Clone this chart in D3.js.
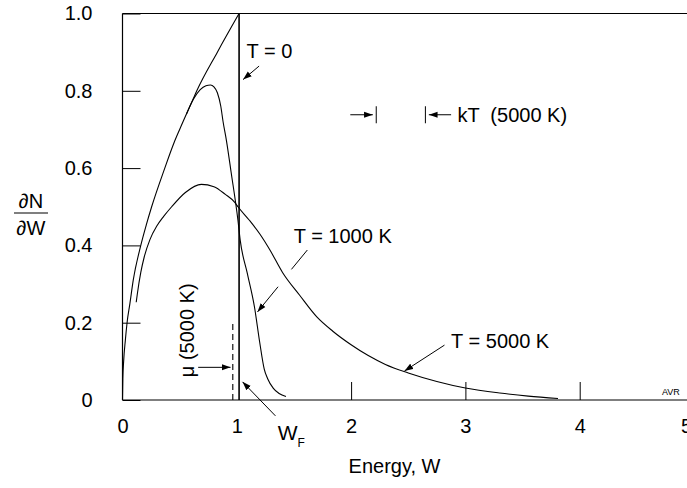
<!DOCTYPE html>
<html>
<head>
<meta charset="utf-8">
<script src="https://cdn.jsdelivr.net/npm/d3@7"></script>
<style>
  body { margin: 0; background: #fff; }
  svg { display: block; }
  text { font-family: "Liberation Sans", Arial, sans-serif; fill: #000; }
</style>
</head>
<body>
<div id="chart"></div>
<script>
// T = 0 (step at the Fermi level)
var w0 = [0, 0.003, 0.01, 0.025, 0.04, 0.065, 0.094, 0.16, 0.21, 0.255, 0.37, 0.45, 0.5, 0.62, 0.65, 0.83, 1.02];
var n0 = [0, 0.055, 0.1, 0.155, 0.2, 0.25, 0.31, 0.4, 0.455, 0.5, 0.6, 0.665, 0.7, 0.78, 0.8, 0.9, 1.0];
var wF = 1.02;

// T = 1000 K
var w1000 = [0.56, 0.62, 0.68, 0.73, 0.77, 0.8, 0.83, 0.86, 0.88, 0.91, 0.95, 1.01, 1.03, 1.09, 1.155, 1.2, 1.24, 1.27, 1.32, 1.43];
var n1000 = [0.74, 0.778, 0.803, 0.813, 0.815, 0.81, 0.795, 0.76, 0.72, 0.67, 0.59, 0.465, 0.413, 0.33, 0.24, 0.15, 0.08, 0.055, 0.03, 0.009];

// T = 5000 K
var w5000 = [0.12, 0.13, 0.16, 0.19, 0.24, 0.3, 0.36, 0.43, 0.55, 0.69, 0.8, 0.9, 0.98, 1.01, 1.11, 1.2, 1.29, 1.4, 1.55, 1.7, 1.84, 2.0, 2.15, 2.3, 2.5, 2.75, 3.0, 3.3, 3.55, 3.81];
var n5000 = [0.253, 0.275, 0.33, 0.37, 0.415, 0.45, 0.475, 0.5, 0.537, 0.558, 0.552, 0.532, 0.512, 0.5, 0.465, 0.43, 0.388, 0.33, 0.271, 0.215, 0.178, 0.143, 0.115, 0.092, 0.07, 0.048, 0.031, 0.018, 0.01, 0.004];

// chemical potential at 5000 K and kT at 5000 K
var mu5000 = 0.965;
var kTfrom = 2.22, kTto = 2.65;

var xTicks = [0, 1, 2, 3, 4, 5];
var yTicks = [0, 0.2, 0.4, 0.6, 0.8, 1.0];

var width = 687, height = 488;

var svg = d3.select("#chart").append("svg")
	.attr("width", width)
	.attr("height", height);

var x = d3.scaleLinear().domain([0, 5]).range([122.5, 694]);
var y = d3.scaleLinear().domain([0, 1]).range([400, 13.5]);

svg.append("defs").append("marker")
	.attr("id", "head")
	.attr("viewBox", "0 -4 10 8")
	.attr("refX", 10)
	.attr("refY", 0)
	.attr("markerUnits", "userSpaceOnUse")
	.attr("markerWidth", 9)
	.attr("markerHeight", 7)
	.attr("orient", "auto")
	.append("path")
	.attr("d", "M0,-3.5L10,0L0,3.5Z")
	.attr("fill", "#000");

// y axis, ticks pointing inward
var yAxis = svg.append("g")
	.attr("transform", "translate(" + x(0) + ",0)")
	.call(d3.axisLeft(y).tickValues(yTicks).tickSize(-18).tickPadding(30)
		.tickFormat(function (d) { return d === 0 ? "0" : d.toFixed(1); }));
yAxis.select(".domain").remove();
yAxis.selectAll("text").style("font-size", "20px").attr("font-family", null);
yAxis.selectAll(".tick line").attr("stroke", "#000");

// x axis, ticks pointing up
var xAxis = svg.append("g")
	.attr("transform", "translate(0," + y(0) + ")")
	.call(d3.axisBottom(x).tickValues(xTicks).tickSize(-18).tickPadding(19)
		.tickFormat(d3.format("d")));
xAxis.select(".domain").remove();
xAxis.selectAll(".tick line").filter(function (d) { return d < 2; }).remove();
xAxis.selectAll("text").style("font-size", "20px").attr("font-family", null);
xAxis.selectAll("text").filter(function (d) { return d === 5; }).attr("dx", -8);
xAxis.selectAll(".tick line").attr("stroke", "#000");

// frame: left, top and bottom
var frame = svg.append("g").attr("stroke", "#000").attr("stroke-width", 1.2);
frame.append("line").attr("x1", x(0)).attr("x2", x(0)).attr("y1", y(0)).attr("y2", y(1));
frame.append("line").attr("x1", x(0)).attr("x2", width).attr("y1", y(1)).attr("y2", y(1));
frame.append("line").attr("x1", x(0)).attr("x2", width).attr("y1", y(0)).attr("y2", y(0));

var line = d3.line()
	.x(function (d) { return x(d[0]); })
	.y(function (d) { return y(d[1]); })
	.curve(d3.curveMonotoneX);

function pairs(ws, ns) {
	return ws.map(function (w, i) { return [w, ns[i]]; });
}

var curves = svg.append("g").attr("fill", "none").attr("stroke", "#000");

curves.append("path").attr("d", line(pairs(w0, n0))).attr("stroke-width", 1.1);
curves.append("line") // T = 0 drop at W_F
	.attr("x1", x(wF)).attr("x2", x(wF))
	.attr("y1", y(1)).attr("y2", y(0))
	.attr("stroke-width", 1.6);
curves.append("path").attr("d", line(pairs(w1000, n1000))).attr("stroke-width", 1.1);
curves.append("path").attr("d", line(pairs(w5000, n5000))).attr("stroke-width", 1.1);

curves.append("line") // mu (5000 K)
	.attr("x1", x(mu5000)).attr("x2", x(mu5000))
	.attr("y1", y(0)).attr("y2", y(0.2))
	.attr("stroke-dasharray", "6,4")
	.attr("stroke-width", 1.1);

// annotations
function arrow(a, b, head) {
	var l = svg.append("line")
		.attr("x1", x(a[0])).attr("y1", y(a[1]))
		.attr("x2", x(b[0])).attr("y2", y(b[1]))
		.attr("stroke", "#000").attr("stroke-width", 1);
	if (head) l.attr("marker-end", "url(#head)");
}
function label(w, v, str, size, anchor) {
	return svg.append("text")
		.attr("x", x(w)).attr("y", y(v))
		.attr("text-anchor", anchor || "start")
		.style("font-size", size + "px")
		.text(str);
}

label(1.085, 0.884, "T = 0", 20);
arrow([1.195, 0.864], [1.055, 0.829], true);

arrow([1.993, 0.738], [kTfrom - 0.03, 0.738], true);
arrow([kTfrom, 0.76], [kTfrom, 0.716], false);
arrow([kTto, 0.76], [kTto, 0.716], false);
arrow([2.875, 0.738], [kTto + 0.03, 0.738], true);
label(2.93, 0.719, "kT  (5000 K)", 20).style("white-space", "pre");

label(1.498, 0.406, "T = 1000 K", 20);
arrow([1.617, 0.388], [1.478, 0.338], false);
arrow([1.361, 0.293], [1.181, 0.228], true);

label(2.875, 0.134, "T = 5000 K", 20);
arrow([2.817, 0.142], [2.467, 0.075], true);

svg.append("text")
	.attr("transform", "translate(" + x(0.624) + "," + y(0.059) + ") rotate(-90)")
	.style("font-size", "20px")
	.text("\u03bc (5000 K)");
arrow([0.662, 0.0845], [mu5000 - 0.02, 0.0845], true);

arrow([1.338, -0.041], [wF + 0.03, 0.047], true);
var wf = label(1.358, -0.103, "W", 21);
wf.append("tspan").attr("dy", 7).style("font-size", "12px").text("F");

label(4.72, 0.013, "AVR", 9);

// axis titles
label(2.38, -0.19, "Energy, W", 20, "middle");
svg.append("text").attr("x", 31).attr("y", 208).attr("text-anchor", "middle")
	.style("font-size", "20px").text("\u2202N");
svg.append("line").attr("x1", 14).attr("x2", 48).attr("y1", 213).attr("y2", 213)
	.attr("stroke", "#000").attr("stroke-width", 1.2);
svg.append("text").attr("x", 31).attr("y", 235).attr("text-anchor", "middle")
	.style("font-size", "20px").text("\u2202W");
</script>
</body>
</html>
